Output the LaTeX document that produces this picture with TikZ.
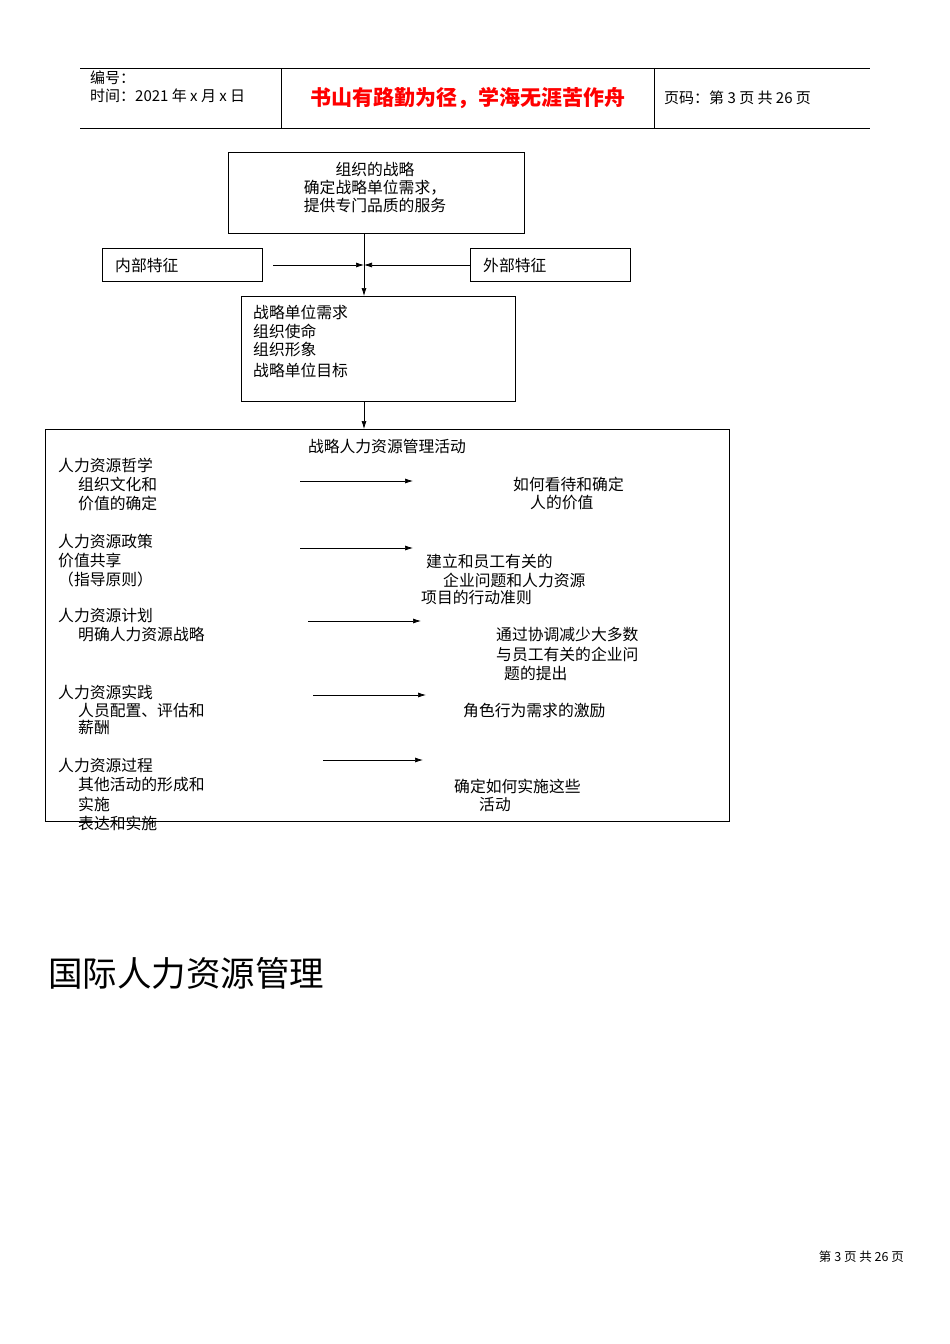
\documentclass[tikz,border=0pt]{standalone}
\usepackage{fontspec}
\setmainfont{Noto Sans CJK SC}
\usetikzlibrary{arrows.meta}
\begin{document}
\begin{tikzpicture}[x=1pt,y=-1pt,
 bx/.style={draw,line width=0.8pt},
 t/.style={anchor=west,inner sep=0pt,font=\fontsize{15.8}{19}\selectfont},
 tc/.style={inner sep=0pt,font=\fontsize{15.8}{18}\selectfont,align=center},
 ar/.style={-{Latex[length=8pt,width=5pt]},line width=0.7pt}]
\useasboundingbox (0,0) rectangle (950,1344);
% header
\draw[line width=0.6pt] (80,68)--(870,68) (80,128)--(870,128) (281,68)--(281,128) (654,68)--(654,128);
\node[t,font=\fontsize{15}{16}\selectfont] (h1) at (90,78) {编号：};
\node[t,font=\fontsize{15}{16}\selectfont] (h2) at (90,96) {时间：2021 年 x 月 x 日};
\node[inner sep=0pt,text=red,font=\fontsize{21}{24}\selectfont\bfseries] (h3) at (468,98) {书山有路勤为径，学海无涯苦作舟};
\node[t,font=\fontsize{15}{16}\selectfont] (h4) at (664,98) {页码：第 3 页 共 26 页};
% boxes
\draw[bx] (228,152) rectangle (524,233);
\node[tc] (b1) at (375,187) {组织的战略\\确定战略单位需求，\\提供专门品质的服务};
\draw[bx] (102,248) rectangle (262,281);
\node[t] (in) at (115,265) {内部特征};
\draw[bx] (470,248) rectangle (630,281);
\node[t] (out) at (483,265) {外部特征};
\coordinate (m) at (364,265);
\coordinate (a1) at (273,265);
\coordinate (a2) at (470,265);
\coordinate (v1) at (364,233);
\coordinate (v2) at (364,296);
\draw[ar] (a1)--(m);
\draw[ar] (a2)--(m);
\draw[ar] (v1)--(v2);
\draw[bx] (241,296) rectangle (515,401);
\node[t] at (253,312) {战略单位需求};
\node[t] at (253,331) {组织使命};
\node[t] at (253,350) {组织形象};
\node[t] at (253,370) {战略单位目标};
\coordinate (v3) at (364,401);
\coordinate (v4) at (364,429);
\draw[ar] (v3)--(v4);
\draw[bx] (45,429) rectangle (729,821);
\node[tc] (tt) at (387,446) {战略人力资源管理活动};
% rows
\node[t] at (58,465) {人力资源哲学};
\node[t] at (78,484) {组织文化和};
\node[t] at (78,503) {价值的确定};
\draw[ar] (300,481)--(413,481);
\node[t] at (513,484) {如何看待和确定};
\node[t] at (530,503) {人的价值};

\node[t] at (58,541) {人力资源政策};
\node[t] at (58,560) {价值共享};
\node[t] at (58,579) {（指导原则）};
\draw[ar] (300,548)--(413,548);
\node[t] at (426,561) {建立和员工有关的};
\node[t] at (443,580) {企业问题和人力资源};
\node[t] at (421,597) {项目的行动准则};

\node[t] at (58,616) {人力资源计划};
\node[t] at (78,635) {明确人力资源战略};
\draw[ar] (308,621)--(421,621);
\node[t] at (496,635) {通过协调减少大多数};
\node[t] at (496,654) {与员工有关的企业问};
\node[t] at (504,673) {题的提出};

\node[t] at (58,692) {人力资源实践};
\node[t] at (78,711) {人员配置、评估和};
\node[t] at (78,728) {薪酬};
\draw[ar] (313,695)--(426,695);
\node[t] at (463,711) {角色行为需求的激励};

\node[t] at (58,766) {人力资源过程};
\node[t] at (78,785) {其他活动的形成和};
\node[t] at (78,804) {实施};
\node[t] at (78,823) {表达和实施};
\draw[ar] (323,760)--(423,760);
\node[t] at (454,786) {确定如何实施这些};
\node[t] at (479,805) {活动};

\node[t,font=\fontsize{34.5}{38}\selectfont] (big) at (48,973) {国际人力资源管理};
\node[anchor=east,inner sep=0pt,font=\fontsize{12.5}{14}\selectfont] (ft) at (904,1257) {第 3 页 共 26 页};
\end{tikzpicture}
\end{document}
